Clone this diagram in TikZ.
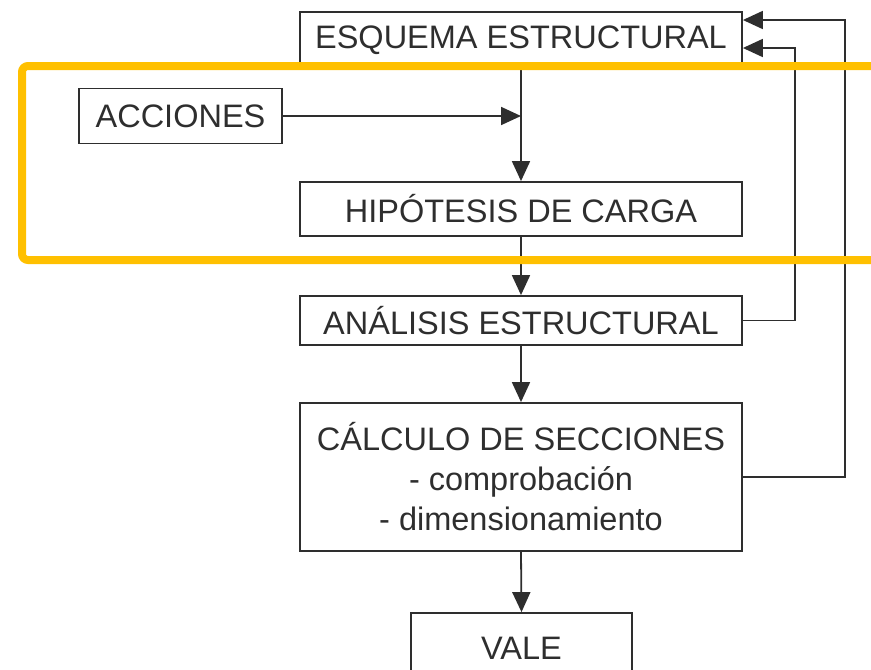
\documentclass[tikz,border=0pt]{standalone}
\usepackage{fontspec}
\setmainfont{Liberation Sans}
\usetikzlibrary{arrows.meta}
\definecolor{ink}{HTML}{2E2E2E}
\definecolor{hilite}{HTML}{FFC000}
\tikzset{
  box/.style={draw=ink, line width=1.8pt, rectangle, inner sep=0pt, text=ink,
    font=\fontsize{32.5}{40}\selectfont, align=center},
  conn/.style={draw=ink, line width=1.8pt, -{Triangle[length=20pt,width=18pt]}},
  plain/.style={draw=ink, line width=1.8pt},
}
\begin{document}
\begin{tikzpicture}[x=1pt,y=-1pt]
\useasboundingbox (0,0) rectangle (871,670);
\node[box, minimum width=442pt, minimum height=52pt, text depth=2pt] (esq) at (521,38) {ESQUEMA ESTRUCTURAL};
\node[box, minimum width=203pt, minimum height=55pt] (acc) at (180.5,116) {ACCIONES};
\node[box, minimum width=442pt, minimum height=54pt] (hip) at (521,209) {HIPÓTESIS DE CARGA};
\node[box, minimum width=442pt, minimum height=49pt] (ana) at (521,320.5) {ANÁLISIS ESTRUCTURAL};
\node[box, minimum width=442pt, minimum height=148pt] (cal) at (521,477) {CÁLCULO DE SECCIONES\\- comprobación\\- dimensionamiento};
\node[box, minimum width=221pt, minimum height=70pt] (vale) at (521.5,648) {VALE};
\coordinate (j) at (esq.south |- acc.east);
\draw[plain] (esq.south) -- (j);
\draw[conn] (j) -- (hip.north);
\draw[conn] (acc.east) -- (j);
\draw[conn] (hip.south) -- (ana.north);
\draw[conn] (ana.south) -- (cal.north);
\draw[conn] (cal.south) -- (vale.north);
\draw[conn] (ana.east) -- (795,320.5) |- ([yshift=-10pt]esq.east);
\draw[conn] (cal.east) -- (845,477) |- ([yshift=18pt]esq.east);
\draw[hilite, line width=8pt, rounded corners=6pt] (22,66) rectangle (900,260);
\end{tikzpicture}
\end{document}
